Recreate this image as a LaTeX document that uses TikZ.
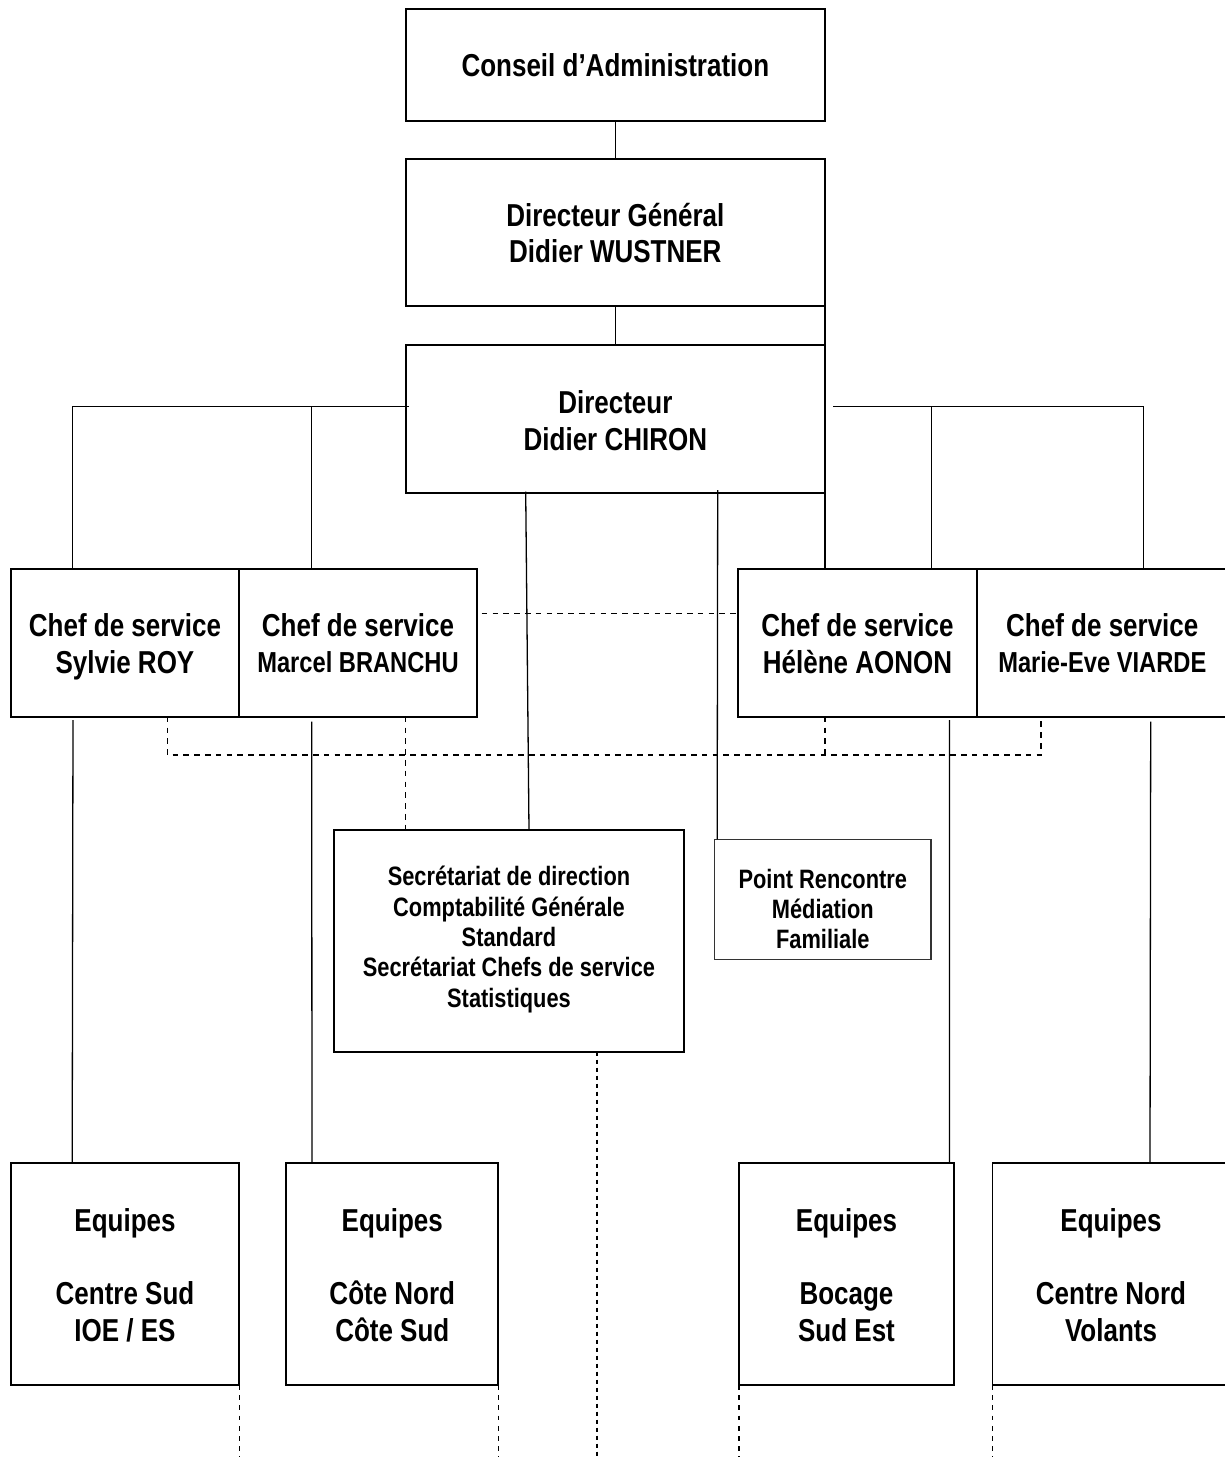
\documentclass[tikz,border=0pt]{standalone}
\usepackage{fontspec}
\setmainfont{Liberation Sans}[FakeStretch=0.82]
\usetikzlibrary{fit,calc}
\newcommand{\medfont}{\fontsize{14.45pt}{18.35pt}\selectfont}
\begin{document}
\begin{tikzpicture}[x=0.5pt,y=-0.5pt,
  box/.style={draw, line width=0.85pt, inner sep=0pt, outer sep=0pt},
  big/.style={font=\bfseries\fontsize{15.85pt}{18.35pt}\selectfont, align=center, inner sep=0pt},
  small/.style={font=\bfseries\fontsize{13.3pt}{15.2pt}\selectfont, align=center, inner sep=0pt},
  conn/.style={line width=0.65pt},
  dsh/.style={line width=0.6pt, dash pattern=on 2.8pt off 2.6pt},
  dotl/.style={line width=0.6pt, dash pattern=on 2.4pt off 2.7pt},
  dotb/.style={line width=1pt, dash pattern=on 2pt off 2pt},
  ]
\useasboundingbox (0,0) rectangle (1225,1457);
\clip (0,0) rectangle (1225,1457);
\fill[white] (0,0) rectangle (1225,1457);

% boxes
\node[box, fit={(405.7,9) (825,120.7)}] (ca) {};
\node[box, fit={(405.7,159) (825,306)}] (dg) {};
\node[box, fit={(405.7,345) (825,493)}] (dir) {};
\node[box, fit={(11,569) (239,716.7)}] (s1) {};
\node[box, fit={(239,569) (477.3,716.7)}] (m1) {};
\node[box, fit={(738.3,569) (976.7,716.7)}] (h1) {};
\node[box, fit={(976.7,569) (1228,716.7)}] (v1) {};
\node[box, fit={(334,830) (683.7,1051.7)}] (sec) {};
\node[box, draw=black!80, line width=0.75pt, fit={(714.7,839.3) (931,959.3)}] (pr) {};
\node[box, fit={(10.7,1162.7) (239.2,1385)}] (e1) {};
\node[box, fit={(286.3,1162.7) (498.3,1385)}] (e2) {};
\node[box, fit={(739,1162.7) (954,1385)}] (e3) {};
\node[box, fit={(992.5,1162.7) (1229,1385)}] (e4) {};

% texts
\node[big, anchor=base] (tca) at (615.35,76) {Conseil d’Administration};
\node[big] (tdg) at (615.35,233) {Directeur Général\\Didier WUSTNER};
\node[big] (tdir) at (615.35,421) {Directeur\\Didier CHIRON};
\node[big] (ts1) at (125,647) {Chef de service\\Sylvie ROY};
\node[big] (tm1) at (358,643) {Chef de service\\{\medfont Marcel BRANCHU}};
\node[big] (th1) at (857.5,644) {Chef de service\\Hélène AONON};
\node[big] (tv1) at (1102.3,643) {Chef de service\\{\medfont Marie-Eve VIARDE}};
\node[small] (tsec) at (509,939.5) {Secrétariat de direction\\Comptabilité Générale\\Standard\\Secrétariat Chefs de service\\Statistiques};
\node[small] (tpr) at (822.8,909) {Point Rencontre\\Médiation\\Familiale};
\node[big] (te1) at (125,1275) {Equipes\\[18.35pt]Centre Sud\\IOE / ES};
\node[big] (te2) at (392.3,1275) {Equipes\\[18.35pt]Côte Nord\\Côte Sud};
\node[big] (te3) at (846.5,1275) {Equipes\\[18.35pt]Bocage\\Sud Est};
\node[big] (te4) at (1111,1275) {Equipes\\[18.35pt]Centre Nord\\Volants};

% coordinates
\coordinate (barL) at (72.7,406.7);
\coordinate (barLm) at (311.7,406.7);
\coordinate (barR0) at (833,406.7);
\coordinate (barR1) at (931.7,406.7);
\coordinate (barR2) at (1143.5,406.7);
\coordinate (dl) at (167.7,755);
\coordinate (dr) at (1041,755);
\coordinate (bot) at (0,1460);
\coordinate (secb) at ($(sec.south west)+(262.7,0)$);

% solid connectors
\draw[conn] (ca.south) -- (dg.north);
\draw[conn] (dg.south) -- (dir.north);
\draw[conn] (dg.south east) -- (dir.north east);
\draw[conn] (dir.south east) -- (dir.south east |- h1.north);
\draw[conn] ($(dir.north west)+(3.3,61.7)$) -- (barL) -- (barL |- s1.north);
\draw[conn] (barLm) -- (barLm |- m1.north);
\draw[conn] (barR0) -- (barR2) -- (barR2 |- v1.north);
\draw[conn] (barR1) -- (barR1 |- h1.north);
\draw[conn] ($(dir.south west)+(120,-1.5)$) -- ($(sec.north west)+(195,0)$);
\draw[conn] ($(dir.south west)+(312,-3)$) -- ($(pr.north west)+(2.5,0)$);
\draw[conn] ($(s1.south west)+(62,3.3)$) -- ($(e1.north west)+(61.5,0)$);
\draw[conn] ($(m1.south west)+(72.7,5)$) -- ($(e2.north west)+(25.7,0)$);
\draw[conn] ($(h1.south west)+(211.2,3.3)$) -- ($(e3.north west)+(210.5,0)$);
\draw[conn] ($(v1.south west)+(174,5)$) -- ($(e4.north west)+(157.5,0)$);

% dashed connectors
\draw[dsh] ($(m1.east)+(4.4,-29.5)$) -- ($(h1.west)+(0,-29.5)$);
\draw[dsh] (dl |- s1.south) -- (dl) -- (dr) -- (dr |- v1.south);
\draw[dsh] ($(m1.south west)+(166.7,0)$) -- ($(sec.north west)+(71.7,0)$);
\draw[dsh] (dir.south east |- h1.south) -- (dir.south east |- dr);

% dotted continuations
\draw[dotb] (secb) -- (secb |- bot);
\draw[dotl] (e1.south east) -- (e1.south east |- bot);
\draw[dotl] (e2.south east) -- (e2.south east |- bot);
\draw[dotl] (e3.south west) -- (e3.south west |- bot);
\draw[dotl] (e4.south west) -- (e4.south west |- bot);
\end{tikzpicture}
\end{document}
